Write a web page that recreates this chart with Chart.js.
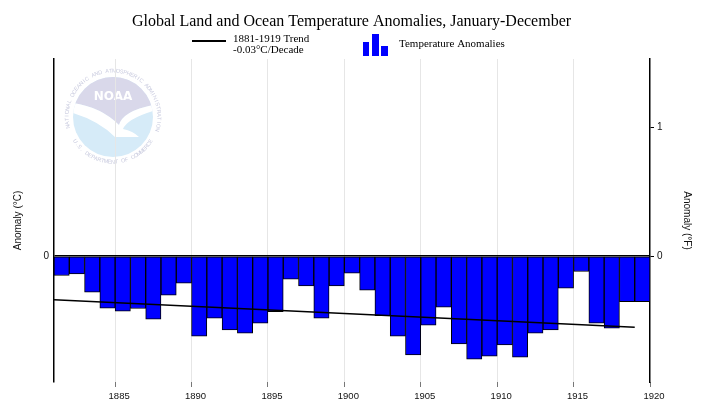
<!DOCTYPE html>
<html>
<head>
<meta charset="utf-8">
<script src="https://cdn.jsdelivr.net/npm/chart.js@4/dist/chart.umd.min.js"></script>
<style>
  html, body { margin: 0; padding: 0; background: #fff; }
  #c { display: block; }
</style>
</head>
<body>
<canvas id="c" width="703" height="412"></canvas>
<script>
// ---- data ----
const years = [1881,1882,1883,1884,1885,1886,1887,1888,1889,1890,
               1891,1892,1893,1894,1895,1896,1897,1898,1899,1900,
               1901,1902,1903,1904,1905,1906,1907,1908,1909,1910,
               1911,1912,1913,1914,1915,1916,1917,1918,1919];
const anomalies = [-0.083,-0.076,-0.155,-0.223,-0.236,-0.225,-0.271,-0.168,-0.116,-0.344,
                   -0.266,-0.317,-0.331,-0.288,-0.239,-0.099,-0.128,-0.266,-0.128,-0.073,
                   -0.146,-0.256,-0.344,-0.425,-0.297,-0.219,-0.377,-0.443,-0.430,-0.382,
                   -0.434,-0.331,-0.317,-0.137,-0.066,-0.288,-0.309,-0.196,-0.196];
const trendYears = [1881, 1919];
const trendValues = [-0.187, -0.306];
const xTickYears = [1885,1890,1895,1900,1905,1910,1915,1920];
const leftTicksC = [0];
const rightTicksF = [0, 1];
const titleText = 'Global Land and Ocean Temperature Anomalies, January-December';
const legendTrend = ['1881-1919 Trend', '-0.03°C/Decade'];
const legendBars = 'Temperature Anomalies';

// ---- layout / style ----
const X_MIN = 1881, X_MAX = 1920;
const Y_MIN_C = -0.541, Y_MAX_C = 0.848;
const BLUE = '#0000ff';
const SANS = '"Liberation Sans", Arial, sans-serif';
const SERIF = '"Liberation Serif", "Times New Roman", serif';

function drawArcText(ctx, text, cx, cy, r, startAng, endAng, outward) {
  const n = text.length;
  for (let i = 0; i < n; i++) {
    const a = startAng + (endAng - startAng) * (i + 0.5) / n;
    ctx.save();
    ctx.translate(cx + r * Math.cos(a), cy + r * Math.sin(a));
    ctx.rotate(outward ? a + Math.PI / 2 : a - Math.PI / 2);
    ctx.fillText(text[i], 0, 0);
    ctx.restore();
  }
}

const decor = {
  id: 'decor',
  beforeDraw(chart) {
    const ctx = chart.ctx;
    ctx.save();
    ctx.fillStyle = '#fff';
    ctx.fillRect(0, 0, chart.width, chart.height);
    // NOAA watermark
    const cx = 113, cy = 117, r = 40;
    ctx.save();
    ctx.beginPath(); ctx.arc(cx, cy, r, 0, Math.PI * 2); ctx.clip();
    ctx.fillStyle = '#d6ebf8';
    ctx.fillRect(cx - r, cy - r, 2 * r, 2 * r);
    ctx.fillStyle = '#d9d8ea';
    ctx.beginPath();
    ctx.moveTo(cx - r, cy - r);
    ctx.lineTo(cx + r, cy - r);
    ctx.lineTo(cx + r, cy - 12);
    ctx.quadraticCurveTo(cx + 10, cy - 6, cx + 6, cy + 8);
    ctx.quadraticCurveTo(cx - 12, cy - 10, cx - r, cy - 14);
    ctx.closePath();
    ctx.fill();
    ctx.fillStyle = '#ffffff';
    ctx.beginPath();
    ctx.moveTo(cx - r, cy - 14);
    ctx.quadraticCurveTo(cx - 12, cy - 10, cx + 6, cy + 8);
    ctx.quadraticCurveTo(cx + 10, cy - 6, cx + r, cy - 12);
    ctx.lineTo(cx + r, cy - 6);
    ctx.quadraticCurveTo(cx + 14, cy + 2, cx + 10, cy + 12);
    ctx.quadraticCurveTo(cx + 20, cy + 14, cx + 26, cy + 20);
    ctx.quadraticCurveTo(cx + 10, cy + 20, cx + 2, cy + 20);
    ctx.quadraticCurveTo(cx - 14, cy + 4, cx - r, cy - 4);
    ctx.closePath();
    ctx.fill();
    ctx.restore();
    ctx.fillStyle = '#ffffff';
    ctx.font = 'bold 12px "DejaVu Sans", sans-serif';
    ctx.textAlign = 'center';
    ctx.textBaseline = 'middle';
    ctx.fillText('NOAA', cx, cy - 20);
    ctx.fillStyle = '#c8cade';
    ctx.font = '5.5px ' + SANS;
    drawArcText(ctx, 'NATIONAL OCEANIC AND ATMOSPHERIC ADMINISTRATION', cx, cy, 46,
                Math.PI * 0.92, Math.PI * 2.1, true);
    drawArcText(ctx, 'U.S. DEPARTMENT OF COMMERCE', cx, cy, 45,
                Math.PI * 0.83, Math.PI * 0.17, false);
    ctx.restore();
  },
  afterDraw(chart) {
    const ctx = chart.ctx;
    ctx.save();
    ctx.fillStyle = '#000';
    ctx.textBaseline = 'alphabetic';
    ctx.textAlign = 'center';
    ctx.font = '16px ' + SERIF;
    ctx.fillText(titleText, 351.5, 26);
    // legend: trend line
    ctx.strokeStyle = '#000';
    ctx.lineWidth = 2;
    ctx.beginPath(); ctx.moveTo(192, 41); ctx.lineTo(226, 41); ctx.stroke();
    ctx.textAlign = 'left';
    ctx.font = '11px ' + SERIF;
    ctx.fillText(legendTrend[0], 233, 42);
    ctx.fillText(legendTrend[1], 233, 52.5);
    // legend: bar icon
    ctx.fillStyle = BLUE;
    ctx.fillRect(363, 42, 6, 14);
    ctx.fillRect(372, 34, 7, 22);
    ctx.fillRect(381, 46, 7, 10);
    ctx.fillStyle = '#000';
    ctx.fillText(legendBars, 399, 47);
    ctx.restore();
  }
};

new Chart(document.getElementById('c'), {
  data: {
    datasets: [
      {
        type: 'bar',
        label: legendBars,
        data: years.map((y, i) => ({ x: y + 0.5, y: anomalies[i] })),
        backgroundColor: BLUE,
        borderColor: '#000',
        borderWidth: 1,
        borderSkipped: false,
        categoryPercentage: 1,
        barPercentage: 1,
        xAxisID: 'x',
        yAxisID: 'y',
        order: 2
      },
      {
        type: 'line',
        label: legendTrend.join(' '),
        data: trendYears.map((y, i) => ({ x: y, y: trendValues[i] })),
        borderColor: '#000',
        borderWidth: 1.5,
        pointRadius: 0,
        fill: false,
        xAxisID: 'x',
        yAxisID: 'y',
        order: 1
      }
    ]
  },
  options: {
    responsive: false,
    animation: false,
    devicePixelRatio: 1,
    layout: { padding: { top: 59, left: 0, right: 0, bottom: 0 } },
    plugins: { legend: { display: false }, title: { display: false }, tooltip: { enabled: false } },
    scales: {
      x: {
        type: 'linear',
        min: X_MIN, max: X_MAX,
        offset: false,
        afterBuildTicks: s => { s.ticks = xTickYears.map(v => ({ value: v })); },
        afterFit: s => { s.height = 30; },
        grid: {
          offset: false,
          color: c => (c.tick && c.tick.value === X_MAX) ? 'rgba(0,0,0,0)' : '#e6e6e6',
          tickColor: '#777',
          tickLength: 5,
          lineWidth: 1
        },
        border: { display: false },
        ticks: {
          font: { family: SANS, size: 9.5 },
          color: '#111',
          padding: 4,
          labelOffset: 4,
          maxRotation: 0,
          autoSkip: false,
          callback: v => String(v)
        }
      },
      y: {
        type: 'linear',
        position: 'left',
        min: Y_MIN_C, max: Y_MAX_C,
        afterBuildTicks: s => { s.ticks = leftTicksC.map(v => ({ value: v })); },
        afterFit: s => { s.width = 54; },
        grid: {
          color: c => (c.tick && c.tick.value === 0) ? '#000' : 'rgba(0,0,0,0)',
          drawTicks: false,
          lineWidth: 1.5
        },
        border: { display: true, color: '#000', width: 1.5 },
        ticks: { font: { family: SANS, size: 10 }, color: '#111', padding: 5, callback: v => String(v) },
        title: {
          display: true,
          text: 'Anomaly (°C)',
          font: { family: SANS, size: 10 },
          color: '#111',
          padding: { top: 12, bottom: 0 }
        }
      },
      y2: {
        type: 'linear',
        position: 'right',
        min: Y_MIN_C * 1.8, max: Y_MAX_C * 1.8,
        afterBuildTicks: s => { s.ticks = rightTicksF.map(v => ({ value: v })); },
        afterFit: s => { s.width = 53; },
        grid: { drawOnChartArea: false, drawTicks: true, tickLength: 4, color: '#000' },
        border: { display: true, color: '#000', width: 1.5 },
        ticks: { font: { family: SANS, size: 10 }, color: '#111', padding: 3, callback: v => String(v) },
        title: {
          display: true,
          text: 'Anomaly (°F)',
          font: { family: SANS, size: 10 },
          color: '#111',
          padding: { top: 10, bottom: 0 }
        }
      }
    }
  },
  plugins: [decor]
});
</script>
</body>
</html>
